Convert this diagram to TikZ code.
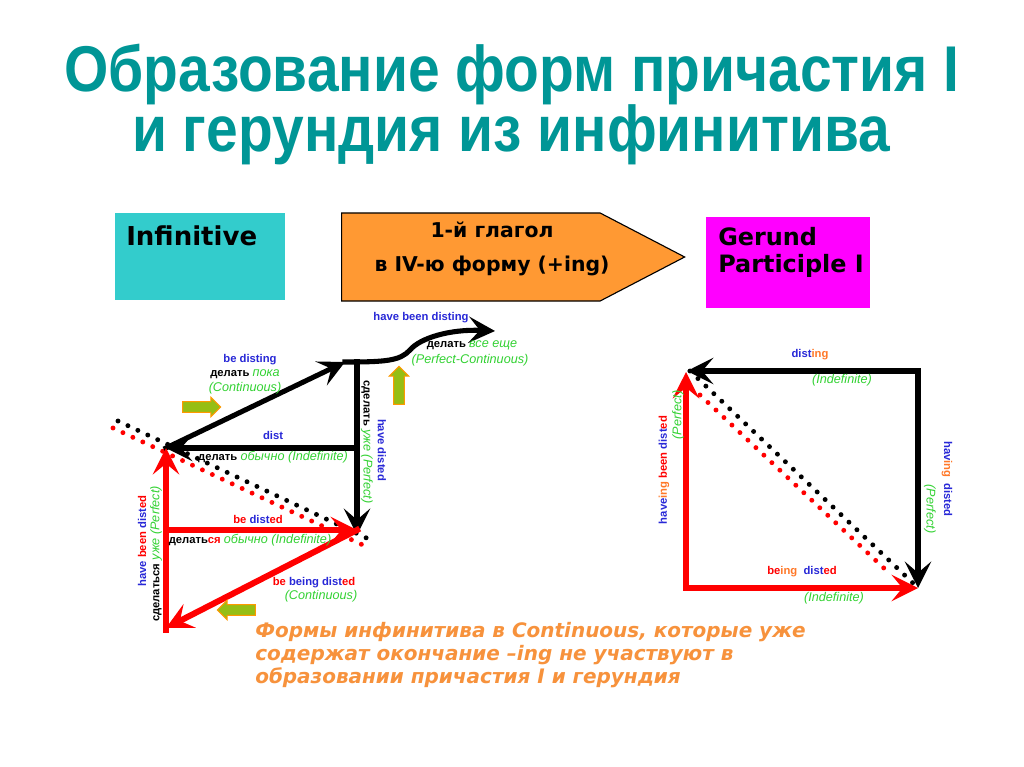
\documentclass[tikz,border=0pt]{standalone}
\usepackage{fontspec}
\setmainfont{Liberation Sans}
\newfontfamily\titlefont[FakeStretch=0.88]{Liberation Sans}
\newfontfamily\boxfont{DejaVu Sans}
\usepackage{tikz}
\usetikzlibrary{arrows.meta,positioning,calc,shapes.arrows}
\definecolor{titleteal}{RGB}{0,150,150}
\definecolor{infcyan}{RGB}{51,204,204}
\definecolor{verborange}{RGB}{255,153,51}
\definecolor{gerundpink}{RGB}{255,0,255}
\definecolor{formblue}{RGB}{40,40,215}
\definecolor{formred}{RGB}{255,0,0}
\definecolor{formgreen}{RGB}{50,210,50}
\definecolor{ingorange}{RGB}{255,120,40}
\definecolor{hintgreen}{RGB}{150,190,20}
\definecolor{hintorange}{RGB}{255,153,0}
\definecolor{noteorange}{RGB}{247,146,60}
\newcommand{\bl}[1]{\textcolor{formblue}{#1}}
\newcommand{\rd}[1]{\textcolor{formred}{#1}}
\newcommand{\og}[1]{\textcolor{ingorange}{#1}}
\newcommand{\gi}[1]{{\fontsize{9}{10}\selectfont\mdseries\itshape\textcolor{formgreen}{#1}}}
\tikzset{
  titletext/.style={
    font=\titlefont\bfseries\fontsize{46}{50}\selectfont,text=titleteal,inner sep=0pt
  },
  colbox/.style={minimum width=4.25cm,minimum height=2.175cm,inner sep=0pt},
  infbox/.style={colbox,fill=infcyan},
  gerbox/.style={colbox,fill=gerundpink,minimum width=4.1cm,minimum height=2.275cm},
  verbshape/.style={
    single arrow,draw=black,line width=0.8pt,fill=verborange,
    minimum height=8.575cm,minimum width=2.2cm,inner sep=0pt,
    single arrow head extend=0pt,single arrow tip angle=55
  },
  boxtext/.style={font=\boxfont\bfseries\fontsize{17}{19.2}\selectfont,inner sep=0pt,align=left},
  verbtext/.style={font=\boxfont\bfseries\fontsize{14.5}{24.2}\selectfont,inner sep=0pt,align=center},
  blackarrow/.style={draw=black,line width=3.6pt,line cap=rect,
    -{Stealth[length=6.6mm,width=6.6mm,inset=2.8mm]}},
  redarrow/.style={draw=formred,line width=4.3pt,line cap=rect,
    -{Stealth[length=6.6mm,width=6.6mm,inset=2.7mm]}},
  dotline/.style={line width=3.5pt,line cap=round,dash pattern=on 0pt off 7.8pt},
  hint/.style={
    single arrow,draw=hintorange,fill=hintgreen,line width=0.7pt,
    minimum height=0.95cm,inner sep=0.12cm,
    single arrow head extend=0.11cm
  },
  lbl/.style={font=\fontsize{8}{9.6}\selectfont\bfseries,inner sep=0pt},
  glbl/.style={font=\fontsize{9}{10}\selectfont\itshape,text=formgreen,inner sep=0pt},
  notetext/.style={font=\boxfont\bfseries\itshape\fontsize{14.2}{16.3}\selectfont,
    text=noteorange,inner sep=0pt,align=left}
}
\begin{document}
\begin{tikzpicture}[x=0.025cm,y=-0.025cm]
  \useasboundingbox[fill=white] (0,0) rectangle (1024,767);
  % title
  \node[titletext,anchor=base] (title) at (512,92) {Образование форм причастия I};
  \node[titletext,anchor=base] (titlesub) at (511,152) {и герундия из инфинитива};
  % top row
  \node[infbox] (inf) at (200,256.5) {};
  \node[boxtext,anchor=base west,font=\boxfont\bfseries\fontsize{18.5}{20}\selectfont] (inftext) at (126,245) {Infinitive};
  \node[verbshape,anchor=tail] (verb) at (341,257) {};
  \node[verbtext,anchor=north] (verbtext) at (492,222) {1-й глагол\\в IV-ю форму (+ing)};
  \node[gerbox] (ger) at (788,262.5) {};
  \node[boxtext,anchor=north west] (gertext) at (718,227) {Gerund\\Participle I};

  % left diagram: points
  \coordinate (A) at (166,448);
  \coordinate (topL) at (345,362);
  \coordinate (topV) at (357,362);
  \coordinate (botV) at (357,535);
  \coordinate (midH) at (357,448);
  \coordinate (waveEnd) at (495,331);
  \coordinate (redBot) at (166,628);
  \coordinate (redBase) at (166,630);
  \coordinate (redMid) at (166,530);
  \coordinate (redEnd) at (357,530);
  \coordinate (dotBa) at (118,421);
  \coordinate (dotBb) at (375,542);
  \coordinate (dotRa) at (113,428);
  \coordinate (dotRb) at (365,546);
  \draw[dotline,formred] (dotRa) -- (dotRb);
  \draw[dotline,black] (dotBa) -- (dotBb);
  \draw[blackarrow] (midH) -- (A);
  \draw[blackarrow] (A) -- (topL);
  \draw[blackarrow] (topV) -- (botV);
  \draw[blackarrow] (topL) .. controls (385,362) and (400,361) .. (410,350)
    .. controls (420,338) and (450,329) .. (waveEnd);
  \draw[redarrow] (redBase) -- (A);
  \draw[redarrow] (redMid) -- (redEnd);
  \draw[redarrow] (redEnd) -- (redBot);
  % left diagram: labels
  \node[lbl] (bedisting) at (250,360) {\bl{be disting}};
  \node[lbl] (delpoka) at (245,374) {делать \gi{пока}};
  \node[glbl] (contA) at (245,388) {(Continuous)};
  \node[lbl] (dist) at (273,435) {\bl{dist}};
  \node[lbl] (delobych) at (273,457) {делать \gi{обычно (Indefinite)}};
  \node[lbl] (hbdisting) at (421,318) {\bl{have been disting}};
  \node[lbl] (delvse) at (472,345) {делать \gi{все еще}};
  \node[glbl] (perfcont) at (470,360) {(Perfect-Continuous)};
  \node[lbl,rotate=-90] (sdelat) at (367,442) {сделать \gi{уже (Perfect)}};
  \node[lbl,rotate=-90] (hdisted) at (382,450) {\bl{have disted}};
  \node[lbl] (bedisted) at (258,519) {\rd{be} \bl{dist}\rd{ed}};
  \node[lbl] (delsya) at (250,540) {делать\rd{ся} \gi{обычно (Indefinite)}};
  \node[lbl] (bbdisted) at (314,583) {\rd{be} \bl{being dist}\rd{ed}};
  \node[glbl] (contB) at (321,596) {(Continuous)};
  \node[lbl,rotate=90] (hbdisted) at (142,541) {\bl{have} \rd{been} \bl{dist}\rd{ed}};
  \node[lbl,rotate=90] (sdelsya) at (156,554) {сделаться \gi{уже (Perfect)}};
  % hint arrows
  \node[hint] (hintR) at (199,407) {};
  \node[hint,shape border rotate=90] (hintU) at (399,388) {};
  \node[hint,shape border rotate=180] (hintL) at (239,610) {};

  % right diagram
  \coordinate (B) at (687,371);
  \coordinate (TR) at (918,371);
  \coordinate (BR) at (918,588);
  \coordinate (BL) at (686,588);
  \coordinate (Bred) at (686,372);
  \coordinate (dotB1) at (690,371);
  \coordinate (dotB2) at (915,585);
  \coordinate (dotR1) at (700,395);
  \coordinate (dotR2) at (888,572);
  \draw[dotline,formred] (dotR1) -- (dotR2);
  \draw[dotline,black] (dotB1) -- (dotB2);
  \draw[blackarrow] (TR) -- (B);
  \draw[blackarrow] (TR) -- (BR);
  \draw[redarrow] (BL) -- (Bred);
  \draw[redarrow] (BL) -- (BR);
  \node[lbl] (disting) at (810,355) {\bl{dist}\og{ing}};
  \node[glbl] (indefA) at (842,380) {(Indefinite)};
  \node[lbl,rotate=-90] (havdisted) at (947,479) {\bl{hav}\og{ing}\ \ \bl{disted}};
  \node[glbl,rotate=-90] (perfB) at (930,509) {(Perfect)};
  \node[lbl,rotate=90] (haveingbeen) at (664,470) {\bl{have}\og{ing} \rd{been} \bl{dist}\rd{ed}};
  \node[glbl,rotate=90] (perfC) at (678,415) {(Perfect)};
  \node[lbl] (beingdisted) at (802,572) {\rd{be}\og{ing}\ \ \bl{dist}\rd{ed}};
  \node[glbl] (indefB) at (834,598) {(Indefinite)};

  % note
  \node[notetext,anchor=north west] (note) at (255,622)
    {Формы инфинитива в Continuous, которые уже\\содержат окончание –ing не участвуют в\\образовании причастия I и герундия};
\end{tikzpicture}
\end{document}
